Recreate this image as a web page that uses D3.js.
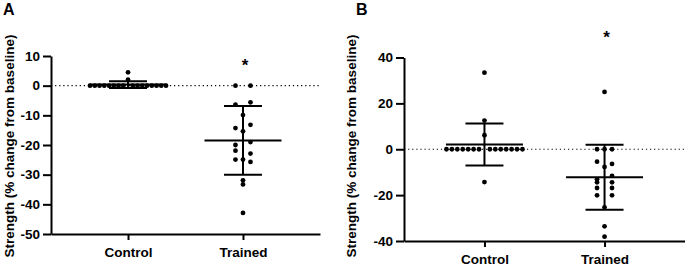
<!DOCTYPE html>
<html>
<head>
<meta charset="utf-8">
<script src="https://cdn.jsdelivr.net/npm/d3@7"></script>
<style>
  body { margin: 0; background: #fff; }
  svg text { font-family: "Liberation Sans", Arial, sans-serif; font-weight: bold; fill: #000; }
</style>
</head>
<body>
<div id="container"></div>
<script>
// data
const groups = ["Control", "Trained"];
const controlA = [4.5, 2, 0, 0, 0, 0, 0, 0, 0, 0, 0, 0, 0, 0, 0, 0, 0, 0];
const trainedA = [0, 0, -6.4, -5.6, -9.9, -14.3, -13.2, -15.4, -20.0, -19.0, -21.9, -22.9, -24.9, -24.9, -25.7, -31.9, -33.3, -42.9];
const controlB = [33.4, 12.5, 6.1, 0, 0, 0, 0, 0, 0, 0, 0, 0, 0, 0, 0, 0, 0, -14.3];
const trainedB = [25.0, 0, 0, 0, -5.4, -6.4, -7.7, -13.1, -11.6, -14.4, -14.4, -16.9, -16.9, -20.1, -20.1, -25.3, -33.6, -38.1];
const ticksA = [10, 0, -10, -20, -30, -40, -50];
const ticksB = [40, 20, 0, -20, -40];
const starA = 5.0;   // value where "*" sits
const starB = 46.5;
const yTitle = "Strength (% change from baseline)";

const W = 685, H = 278;
const svg = d3.select('#container')
  .append('svg')
  .attr('width', W)
  .attr('height', H);

const panels = [
  { label: "A", data: [controlA, trainedA], ticks: ticksA, star: starA,
    left: 51, right: 320, top: 56, bottom: 234, titleX: 14, labelX: 3 },
  { label: "B", data: [controlB, trainedB], ticks: ticksB, star: starB,
    left: 404, right: 685, top: 57.5, bottom: 241, titleX: 356, labelX: 356 }
];

// column scatter layout: points close in y share a row and spread sideways
function spread(values, cx, y, maxHalf) {
  const pts = values.map((v, i) => ({ v, i, py: y(v) }));
  const sorted = pts.slice().sort((a, b) => a.py - b.py || a.i - b.i);
  const rows = [];
  let row = null;
  sorted.forEach(p => {
    if (row && p.py - row[0].py < 4) row.push(p);
    else { row = [p]; rows.push(row); }
  });
  rows.forEach(r => {
    r.sort((a, b) => a.i - b.i);
    const n = r.length, k = Math.floor(n / 2);
    const s = k ? Math.min(7.5, maxHalf / k) : 0;
    const offs = [];
    if (n % 2) offs.push(0);
    for (let j = 1; j <= k; j++) offs.push(-j * s, j * s);
    offs.sort((a, b) => a - b);
    r.forEach((p, j) => p.px = cx + offs[j]);
  });
  return pts;
}

panels.forEach(P => {
  const dom = d3.extent(P.ticks);
  const y = d3.scaleLinear().domain(dom).range([P.bottom, P.top]);
  const x = d3.scalePoint().domain(groups).range([P.left, P.right]).padding(0.67);

  const g = svg.append('g');

  // zero reference line
  g.append('line')
    .attr('x1', P.left).attr('x2', P.right)
    .attr('y1', y(0)).attr('y2', y(0))
    .attr('stroke', '#000')
    .attr('stroke-width', 1.2)
    .attr('stroke-dasharray', '1.2 2.9');

  // points
  groups.forEach((name, gi) => {
    const vals = P.data[gi];
    const pts = spread(vals, x(name), y, 38);
    g.selectAll(null).data(pts).enter()
      .append('circle')
      .attr('cx', d => d.px)
      .attr('cy', d => d.py)
      .attr('r', 2.4)
      .attr('fill', '#000');

    const m = d3.mean(vals), sd = d3.deviation(vals);
    const cx = x(name);
    const bars = g.append('g').attr('stroke', '#000').attr('stroke-width', 2);
    bars.append('line').attr('x1', cx).attr('x2', cx).attr('y1', y(m + sd)).attr('y2', y(m - sd));
    bars.append('line').attr('x1', cx - 38.5).attr('x2', cx + 38.5).attr('y1', y(m)).attr('y2', y(m));
    [m + sd, m - sd].forEach(v => {
      bars.append('line').attr('x1', cx - 19).attr('x2', cx + 19).attr('y1', y(v)).attr('y2', y(v));
    });
  });

  // significance mark
  g.append('text')
    .attr('x', x("Trained") + 2)
    .attr('y', y(P.star))
    .attr('text-anchor', 'middle')
    .style('font-size', '17px')
    .text('*');

  // axes
  const yAxis = d3.axisLeft(y).tickValues(P.ticks).tickFormat(d => String(d))
    .tickSizeInner(8).tickSizeOuter(0).tickPadding(3);
  const xAxis = d3.axisBottom(x).tickSizeInner(6).tickSizeOuter(0).tickPadding(7);

  const ya = g.append('g')
    .attr('transform', 'translate(' + P.left + ',0)')
    .call(yAxis);
  const xa = g.append('g')
    .attr('transform', 'translate(0,' + P.bottom + ')')
    .call(xAxis);

  [ya, xa].forEach(a => {
    a.selectAll('path, line').attr('stroke', '#000').attr('stroke-width', 2);
    a.selectAll('text')
      .style('font-size', '13.5px')
      .style('font-family', '"Liberation Sans", Arial, sans-serif')
      .style('font-weight', 'bold')
      .attr('fill', '#000');
  });

  // axis title
  g.append('text')
    .attr('transform', 'translate(' + P.titleX + ',' + 146 + ') rotate(-90)')
    .attr('text-anchor', 'middle')
    .style('font-size', '13.5px')
    .text(yTitle);

  // panel letter
  g.append('text')
    .attr('x', P.labelX)
    .attr('y', 15)
    .style('font-size', '16px')
    .text(P.label);
});
</script>
</body>
</html>
